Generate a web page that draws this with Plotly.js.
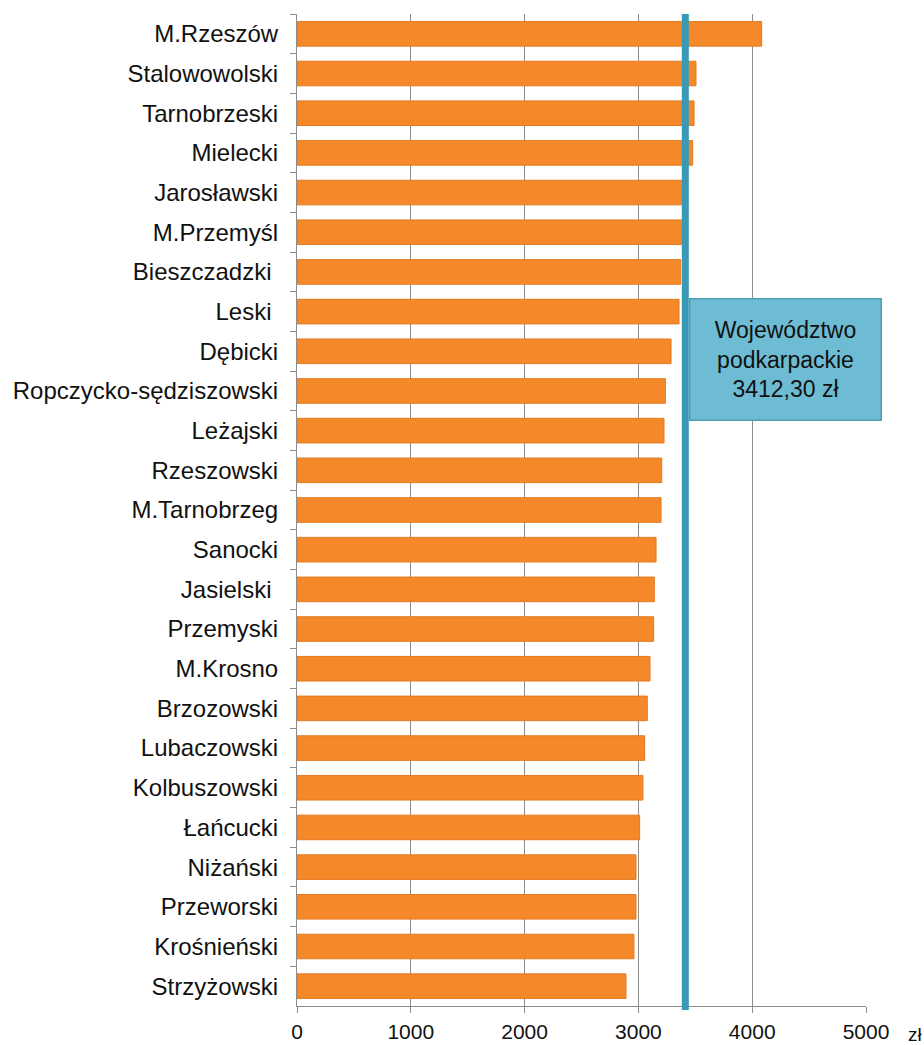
<!DOCTYPE html>
<html>
<head>
<meta charset="utf-8">
<script src="https://cdn.plot.ly/plotly-3.0.1.min.js"></script>
<style>html,body{margin:0;padding:0;background:#fff;}#chart{width:924px;height:1045px;}</style>
</head>
<body>
<div id="chart"></div>
<script>
const categories = ["M.Rzeszów","Stalowowolski","Tarnobrzeski","Mielecki","Jarosławski","M.Przemyśl","Bieszczadzki\u00a0","Leski\u00a0","Dębicki","Ropczycko-sędziszowski","Leżajski","Rzeszowski","M.Tarnobrzeg","Sanocki","Jasielski\u00a0","Przemyski","M.Krosno","Brzozowski","Lubaczowski","Kolbuszowski","Łańcucki","Niżański","Przeworski","Krośnieński","Strzyżowski"];
const values = [4083,3506,3489,3477,3400,3395,3372,3357,3287,3237,3225,3205,3199,3155,3140,3134,3102,3078,3055,3040,3011,2979,2979,2961,2891];
const regionAverage = 3412.30;
const regionLabel = "Województwo<br>podkarpackie<br>3412,30 zł";
const xTicks = [0,1000,2000,3000,4000,5000];
const xTickText = ["0","1000","2000","3000","4000","5000"];
const unitLabel = "zł";

const font = "Liberation Sans, Arial, sans-serif";

const data = [{
  type: "bar",
  orientation: "h",
  y: categories,
  x: values,
  width: 0.62,
  marker: {color: "#F5892A", line: {color: "#E27A22", width: 1}},
  hoverinfo: "x+y"
}];

const layout = {
  width: 924, height: 1045,
  margin: {l: 297, r: 58, t: 14, b: 39},
  paper_bgcolor: "#fff", plot_bgcolor: "#fff",
  showlegend: false,
  font: {family: font, size: 18, color: "#1a1a1a"},
  xaxis: {
    range: [0, 5000], tickvals: xTicks, ticktext: xTickText,
    showgrid: true, gridcolor: "#8c8c8c", gridwidth: 1,
    zeroline: false, showline: true, linecolor: "#8c8c8c", linewidth: 1,
    ticks: "outside", ticklen: 6, tickcolor: "#8c8c8c", ticklabelstandoff: 1,
    tickfont: {family: font, size: 21, color: "#111"}, fixedrange: true
  },
  yaxis: {
    type: "category", autorange: "reversed",
    showgrid: false, zeroline: false, showline: true, linecolor: "#8c8c8c", linewidth: 1,
    ticks: "outside", tickson: "boundaries", ticklen: 6, tickcolor: "#8c8c8c",
    ticklabelstandoff: 13,
    tickfont: {family: font, size: 24, color: "#111"}, fixedrange: true
  },
  shapes: [{
    type: "line", xref: "x", yref: "paper",
    x0: regionAverage, x1: regionAverage, y0: -0.004, y1: 1,
    line: {color: "#3A9AB6", width: 7}
  }],
  annotations: [{
    xref: "paper", yref: "paper", x: 0.858, y: 0.652, xanchor: "center", yanchor: "middle",
    text: regionLabel, showarrow: false, align: "center",
    width: 182, height: 112, borderpad: 4, borderwidth: 1.5,
    bgcolor: "#6EBCD3", bordercolor: "#4F9EB7",
    font: {family: font, size: 23, color: "#111"}
  }, {
    xref: "paper", yref: "paper", x: 1.07, y: 0, yshift: -28, xanchor: "left", yanchor: "middle",
    text: unitLabel, showarrow: false, font: {family: font, size: 19, color: "#111"}
  }]
};

Plotly.newPlot("chart", data, layout, {displayModeBar: false, staticPlot: true});
</script>
</body>
</html>
